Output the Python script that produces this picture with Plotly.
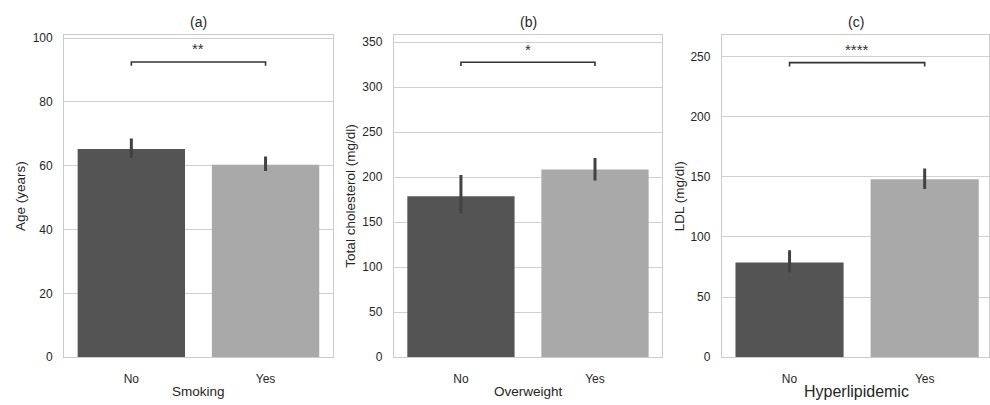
import plotly.graph_objects as go

W, H = 990, 405

categories = ["No", "Yes"]

age_mean = [65.2, 60.3]
age_low = [62.4, 58.3]
age_high = [68.5, 62.9]

chol_mean = [178.7, 208.5]
chol_low = [159.7, 196.3]
chol_high = [202.2, 221.3]

ldl_mean = [78.7, 147.9]
ldl_low = [70.6, 139.9]
ldl_high = [88.9, 156.8]

panel_titles = ["(a)", "(b)", "(c)"]
x_titles = ["Smoking", "Overweight", "Hyperlipidemic"]
y_titles = ["Age (years)", "Total cholesterol (mg/dl)", "LDL (mg/dl)"]
stars = ["**", "*", "****"]
bracket_y = [92.5, 327.6, 244.9]
bracket_drop = [1.2, 4.3, 3.2]
y_ranges = [[0, 101], [0, 358], [0, 268]]
y_dticks = [20, 50, 50]

means = [age_mean, chol_mean, ldl_mean]
lows = [age_low, chol_low, ldl_low]
highs = [age_high, chol_high, ldl_high]

bar_colors = ["#545454", "#a9a9a9"]
err_color = "#424242"
text_color = "#262626"
grid_color = "#d0d0d0"
font_family = "Liberation Sans, Arial, sans-serif"

# pixel layout
x_left = [64.3, 394.3, 722.7]
x_right = [333.0, 662.7, 990.0]
plot_top, plot_bottom = 31.7, 363.0
x_ranges = [[-0.5, 1.5], [-0.5, 1.5], [-0.5, 1.476]]
ytitle_x = [21, 351, 681]
xtitle_size = [13.5, 13.5, 16]

fig = go.Figure()
annotations = []
for i in range(3):
    ax = "" if i == 0 else str(i + 1)
    m, lo, hi = means[i], lows[i], highs[i]
    fig.add_trace(go.Bar(
        x=categories, y=m,
        marker=dict(color=bar_colors, line=dict(width=0)),
        width=0.8,
        error_y=dict(type="data", symmetric=False,
                     array=[h - v for h, v in zip(hi, m)],
                     arrayminus=[v - l for v, l in zip(m, lo)],
                     color=err_color, thickness=3, width=0),
        xaxis="x" + ax, yaxis="y" + ax, showlegend=False, hoverinfo="skip",
    ))
    by, bd = bracket_y[i], bracket_drop[i]
    fig.add_trace(go.Scatter(
        x=[categories[0], categories[0], categories[1], categories[1]],
        y=[by - bd, by, by, by - bd],
        mode="lines", line=dict(color="#333333", width=1.6),
        xaxis="x" + ax, yaxis="y" + ax, showlegend=False, hoverinfo="skip",
    ))
    annotations.append(dict(
        x=0.5, y=by, xref="x" + ax, yref="y" + ax, text=stars[i],
        showarrow=False, yanchor="middle", yshift=13,
        font=dict(size=15, color="#333333", family=font_family),
    ))
    dom_x = [x_left[i] / W, x_right[i] / W]
    dom_y = [(H - plot_bottom) / H, (H - plot_top) / H]
    fig.update_layout(**{
        "xaxis" + ax: dict(
            domain=dom_x, range=x_ranges[i], type="category",
            showline=True, linecolor="#cccccc", linewidth=1.3, mirror=True,
            showgrid=False, zeroline=False, ticks="",
            tickfont=dict(size=12, color=text_color, family=font_family),
            ticklabelstandoff=10,
            anchor="y" + ax,
        ),
        "yaxis" + ax: dict(
            domain=dom_y, range=y_ranges[i], dtick=y_dticks[i], tick0=0,
            showline=True, linecolor="#cccccc", linewidth=1.3, mirror=True,
            showgrid=True, gridcolor=grid_color, gridwidth=1,
            zeroline=False, ticks="",
            tickfont=dict(size=12, color=text_color, family=font_family),
            ticklabelstandoff=8,
            anchor="x" + ax,
        ),
    })
    cx = (x_left[i] + 134.5) / W
    annotations.append(dict(
        x=cx, y=(H - 19) / H, xref="paper", yref="paper", text=panel_titles[i],
        showarrow=False, xanchor="center", yanchor="middle",
        font=dict(size=14, color=text_color, family=font_family),
    ))
    annotations.append(dict(
        x=cx, y=(H - 398.5) / H, xref="paper", yref="paper", text=x_titles[i],
        showarrow=False, xanchor="center", yanchor="middle",
        font=dict(size=xtitle_size[i], color=text_color, family=font_family),
    ))
    annotations.append(dict(
        x=ytitle_x[i] / W, y=(H - (plot_top + plot_bottom) / 2) / H,
        xref="paper", yref="paper", text=y_titles[i], textangle=-90,
        showarrow=False, xanchor="center", yanchor="middle",
        font=dict(size=13.5, color=text_color, family=font_family),
    ))

fig.update_layout(
    width=W, height=H,
    margin=dict(l=0, r=0, t=0, b=0),
    paper_bgcolor="white", plot_bgcolor="white",
    annotations=annotations,
    bargap=0.2,
)

fig.write_html(
    "out.html",
    config={"displayModeBar": False},
    post_script="document.body.style.margin='0';document.body.style.overflow='hidden';",
)
